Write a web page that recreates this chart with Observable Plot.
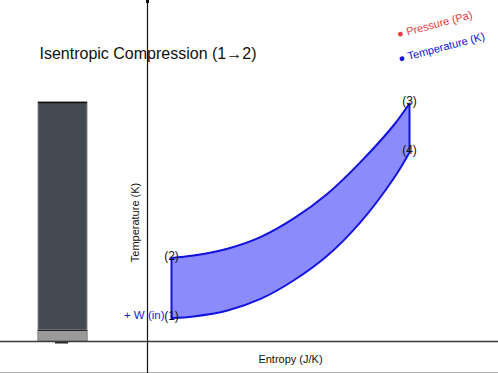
<!DOCTYPE html>
<html>
<head>
<meta charset="utf-8">
<script src="https://cdn.jsdelivr.net/npm/d3@7"></script>
<script src="https://cdn.jsdelivr.net/npm/@observablehq/plot@0.6"></script>
<style>
  html, body { margin: 0; padding: 0; background: #fff; }
  #chart svg { display: block; font-family: "Liberation Sans", Arial, sans-serif; }
</style>
</head>
<body>
<div id="chart"></div>
<script>
// Cycle data (entropy in J/K, temperature in K, arbitrary scale)
const entropy   = [0.24, 0.46, 0.80, 1.13, 1.46, 1.80, 2.13, 2.46, 2.62];
const tempUpper = [418, 430, 464, 522, 614, 739, 897, 1080, 1190]; // 2 -> 3
const tempLower = [117, 125, 155, 213, 305, 430, 597, 814, 945];   // 1 -> 4
const stateLabels = ["(1)", "(2)", "(3)", "(4)"];
const barEntropy = [-1.09, -0.60];
const barTemp = 1195;
const barBase = 55;
const legendLabels = ["Pressure (Pa)", "Temperature (K)"];
const legendColors = ["#e23b3b", "#1010d8"];
const titleText = "Isentropic Compression (1\u21922)";
const xLabel = "Entropy (J/K)";
const yLabel = "Temperature (K)";
const workLabel = "+ W (in)";

const n = entropy.length;
const cycle = entropy.map((s, i) => ({s, lo: tempLower[i], hi: tempUpper[i]}));
const states = [
  {s: entropy[0], T: tempLower[0], label: stateLabels[0]},
  {s: entropy[0], T: tempUpper[0], label: stateLabels[1]},
  {s: entropy[n-1], T: tempUpper[n-1], label: stateLabels[2]},
  {s: entropy[n-1], T: tempLower[n-1], label: stateLabels[3]}
];

const chart = Plot.plot({
  width: 498,
  height: 373,
  margin: 0,
  x: {domain: [-1.47, 3.51], axis: null},
  y: {domain: [-160, 1705], axis: null},
  marks: [
    // bottom border
    Plot.ruleY([-157], {stroke: "#b0b0b0", strokeWidth: 2}),
    // left bar
    Plot.rect([0], {x1: barEntropy[0], x2: barEntropy[1], y1: 0, y2: barTemp, fill: "#434a52", stroke: "#8a8a8a", strokeWidth: 1}),
    Plot.ruleY([barTemp], {x1: barEntropy[0], x2: barEntropy[1], stroke: "#111", strokeWidth: 1.5}),
    Plot.rect([0], {x1: barEntropy[0], x2: barEntropy[1], y1: 0, y2: barBase, fill: "#9a9a9a", stroke: "#8a8a8a", strokeWidth: 1}),
    Plot.ruleY([barBase], {x1: barEntropy[0], x2: barEntropy[1], stroke: "#222", strokeWidth: 1}),
    Plot.ruleY([-5], {x1: -0.92, x2: -0.79, stroke: "#222", strokeWidth: 2}),
    // title
    Plot.text([titleText], {frameAnchor: "top-left", dx: 39, dy: 53, textAnchor: "start", lineAnchor: "middle", fontSize: 16, fill: "#111"}),
    // axes
    Plot.ruleY([0], {stroke: "#3a3a3a", strokeWidth: 1.5}),
    Plot.ruleX([0], {y1: -160, y2: 1700, stroke: "#111", strokeWidth: 1.2}),
    Plot.ruleX([0], {y1: 1690, y2: 1705, stroke: "#111", strokeWidth: 3}),
    // cycle
    Plot.areaY(cycle, {x: "s", y1: "lo", y2: "hi", fill: "#8b8bfb", curve: "catmull-rom"}),
    Plot.line(cycle, {x: "s", y: "hi", stroke: "#1212e0", strokeWidth: 2, curve: "catmull-rom"}),
    Plot.line(cycle, {x: "s", y: "lo", stroke: "#1212e0", strokeWidth: 2, curve: "catmull-rom"}),
    Plot.ruleX([entropy[0]], {y1: tempLower[0], y2: tempUpper[0], stroke: "#1212e0", strokeWidth: 2}),
    Plot.ruleX([entropy[n-1]], {y1: tempLower[n-1], y2: tempUpper[n-1], stroke: "#1212e0", strokeWidth: 2}),
    // state labels
    Plot.text(states, {x: "s", y: "T", text: "label", fontSize: 12, fill: "#111", dy: -2}),
    Plot.text([workLabel], {x: entropy[0], y: tempLower[0], dx: -7, dy: -3, textAnchor: "end", fontSize: 11.5, fill: "#1a1ad0"}),
    // axis labels
    Plot.text([yLabel], {x: 0, y: 595, dx: -12, rotate: -90, fontSize: 11, fill: "#111"}),
    Plot.text([xLabel], {x: 1.43, y: -90, fontSize: 11, fill: "#111"}),
    // legend
    Plot.text([legendLabels[0]], {frameAnchor: "top-right", dx: -65, dy: 20, text: d => "\u25CF " + d, rotate: -15, textAnchor: "middle", fontSize: 11, fill: legendColors[0]}),
    Plot.text([legendLabels[1]], {frameAnchor: "top-right", dx: -58, dy: 43, text: d => "\u25CF " + d, rotate: -15, textAnchor: "middle", fontSize: 11, fill: legendColors[1]})
  ]
});
document.getElementById("chart").append(chart);
</script>
</body>
</html>
